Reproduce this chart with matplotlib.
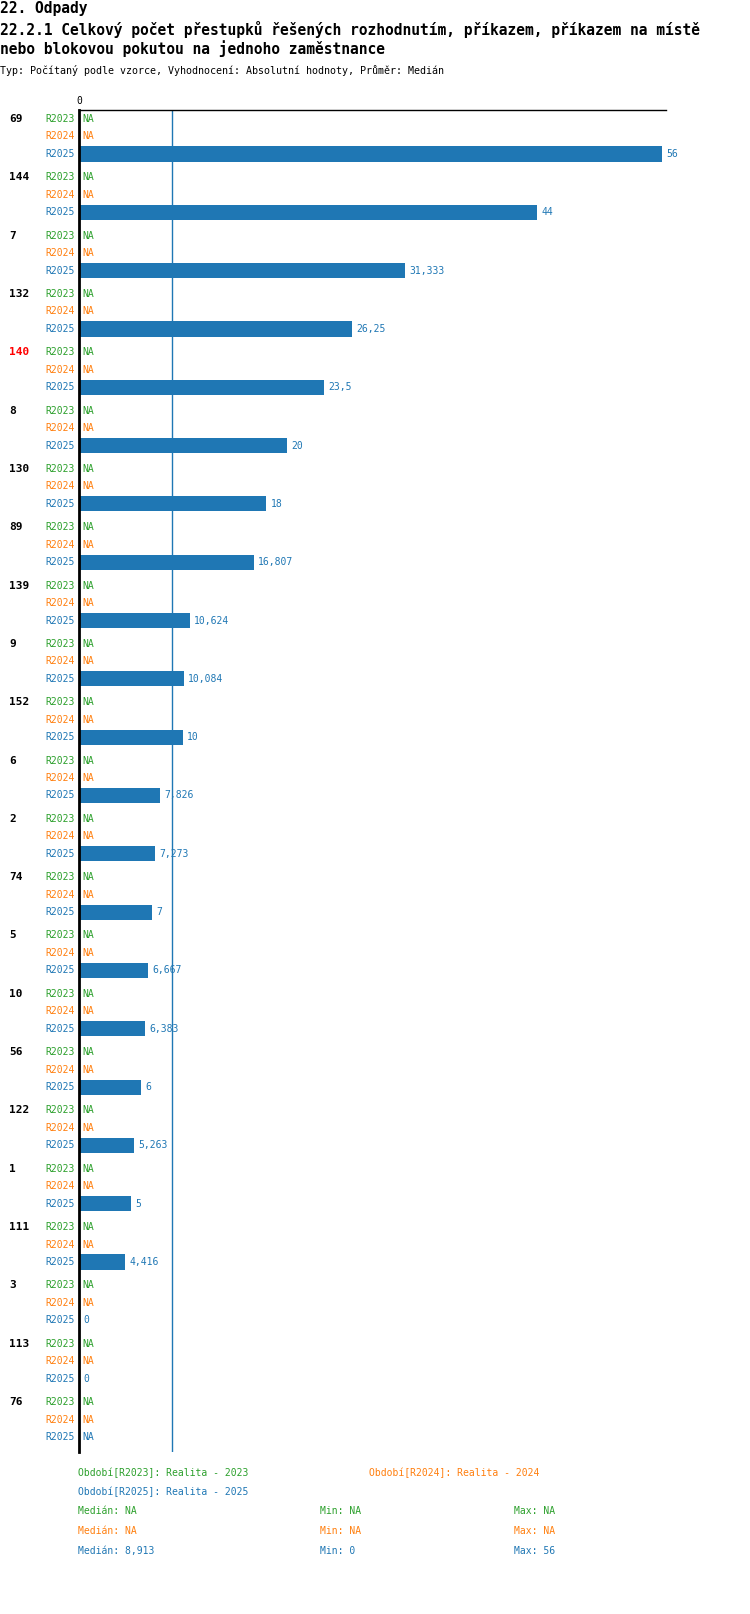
import matplotlib
matplotlib.use("Agg")
import matplotlib.pyplot as plt
import matplotlib.transforms as mtransforms
import numpy as np

groups = ["69", "144", "7", "132", "140", "8", "130", "89", "139", "9", "152", "6",
          "2", "74", "5", "10", "56", "122", "1", "111", "3", "113", "76"]
highlight = "140"
periods = ["R2023", "R2024", "R2025"]
period_names = ["Realita - 2023", "Realita - 2024", "Realita - 2025"]
r2023 = [None] * len(groups)
r2024 = [None] * len(groups)
r2025 = [56, 44, 31.333, 26.25, 23.5, 20, 18, 16.807, 10.624, 10.084, 10, 7.826,
         7.273, 7, 6.667, 6.383, 6, 5.263, 5, 4.416, 0, 0, None]
colors = ["#2ca02c", "#ff7f0e", "#1f77b4"]

def fmt(v):
    if v is None:
        return "NA"
    s = ("%.3f" % v).rstrip("0").rstrip(".")
    return s.replace(".", ",")

W, H = 750, 1614
fig = plt.figure(figsize=(W / 100, H / 100), dpi=100)
plt.rcParams['font.family'] = ['DejaVu Sans Mono']

def fx(px):
    return px / W

def fy(py):
    return 1 - py / H

ax = fig.add_axes([fx(79), fy(1452), fx(666) - fx(79), (1452 - 110) / H])

series = [r2023, r2024, r2025]
vals_all = [v for v in r2025 if v is not None]
xmax = max(vals_all) * (587 / 583)
ax.set_xlim(0, xmax)
ax.set_ylim(22 * 10 + 6 + 2.57, -1.54)

ybl = mtransforms.blended_transform_factory(fig.transFigure, ax.transData)
fs = 7

for i, g in enumerate(groups):
    base = i * 10
    ax.text(fx(9), base, g, transform=ybl, fontsize=8, fontweight="bold",
            color="red" if g == highlight else "black", va="center", ha="left")
    for j, s in enumerate(series):
        y = base + j * 3
        v = s[i]
        ax.text(fx(75), y, periods[j], transform=ybl, fontsize=fs, color=colors[j],
                va="center", ha="right")
        if v is None:
            ax.text(fx(82), y, "NA", transform=ybl, fontsize=fs, color=colors[j],
                    va="center", ha="left")
        else:
            if v > 0:
                ax.barh(y, v, height=2.6, color=colors[j], zorder=2)
            ax.annotate(fmt(v), (v, y), xytext=(3, 0), textcoords="offset points",
                        fontsize=fs, color=colors[j], va="center", ha="left")

med = np.median(vals_all)
ax.axvline(med, color=colors[2], linewidth=1, zorder=1)

for sp in ["right", "bottom"]:
    ax.spines[sp].set_visible(False)
ax.spines["top"].set_linewidth(1)
ax.spines["left"].set_linewidth(2)
ax.set_xticks([])
ax.set_yticks([])
ax.text(0, 1.003, "0", transform=ax.get_xaxis_transform(), fontsize=fs,
        ha="center", va="bottom")

# titles
fig.text(0, fy(8), "22. Odpady", fontsize=10.5, fontweight="bold", va="center")
fig.text(0, fy(29), "22.2.1 Celkový počet přestupků řešených rozhodnutím, příkazem, příkazem na místě",
         fontsize=10.5, fontweight="bold", va="center")
fig.text(0, fy(49), "nebo blokovou pokutou na jednoho zaměstnance",
         fontsize=10.5, fontweight="bold", va="center")
fig.text(0, fy(71), "Typ: Počítaný podle vzorce, Vyhodnocení: Absolutní hodnoty, Průměr: Medián",
         fontsize=7.2, va="center")

# legend
fig.text(fx(78), fy(1473), "Období[%s]: %s" % (periods[0], period_names[0]),
         fontsize=fs, color=colors[0], va="center")
fig.text(fx(369), fy(1473), "Období[%s]: %s" % (periods[1], period_names[1]),
         fontsize=fs, color=colors[1], va="center")
fig.text(fx(78), fy(1492), "Období[%s]: %s" % (periods[2], period_names[2]),
         fontsize=fs, color=colors[2], va="center")

for k, s in enumerate(series):
    vv = [v for v in s if v is not None]
    if vv:
        m, lo, hi = fmt(float(np.median(vv))), fmt(min(vv)), fmt(max(vv))
    else:
        m = lo = hi = "NA"
    yy = fy(1511 + k * 20)
    fig.text(fx(78), yy, "Medián: " + m, fontsize=fs, color=colors[k], va="center")
    fig.text(fx(320), yy, "Min: " + lo, fontsize=fs, color=colors[k], va="center")
    fig.text(fx(514), yy, "Max: " + hi, fontsize=fs, color=colors[k], va="center")

fig.savefig("out.png", dpi=100)
